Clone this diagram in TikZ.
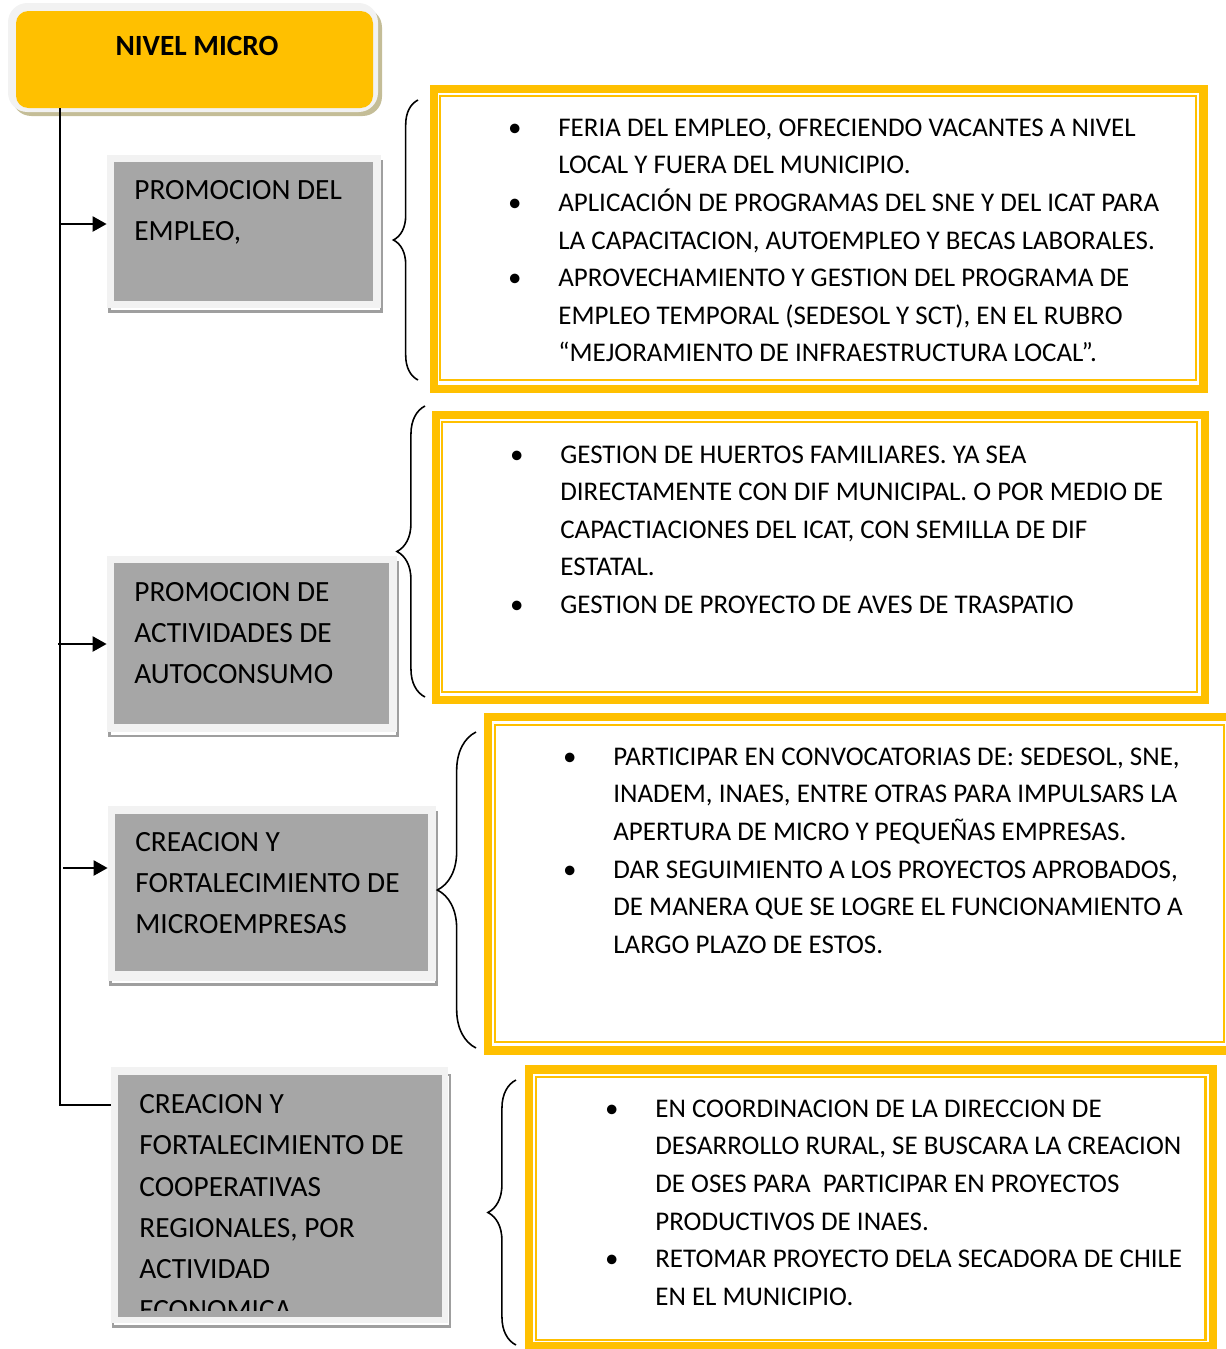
\documentclass[tikz,border=0pt]{standalone}
\usepackage{fontspec}
\setmainfont{Carlito}
\usepackage{xcolor}
\usetikzlibrary{arrows.meta, positioning, fit, decorations.pathreplacing}

\definecolor{micro}{HTML}{FFC000}
\definecolor{boxgray}{HTML}{A6A6A6}
\definecolor{rimgray}{HTML}{F2F2F2}
\definecolor{shadetan}{HTML}{C4BD97}
\newcommand{\bul}{\llap{\textbullet\hspace{21pt}}}

\begin{document}
\begin{tikzpicture}[
    x=0.02cm, y=-0.02cm,
    rim/.style={fill=rimgray, draw=none, inner sep=0pt},
    core/.style={fill=boxgray, draw=none, inner sep=0pt},
    shade/.style={draw=gray!75, line width=1.6pt},
    frame/.style={draw=micro, line width=4.6pt},
    thinframe/.style={draw=micro, line width=1.3pt},
    title/.style={font=\fontsize{16.7}{20}\selectfont\bfseries, inner sep=0pt},
    label/.style={anchor=base west, align=left, inner sep=0pt, font=\fontsize{16.7}{23.4}\selectfont},
    items/.style={anchor=base west, align=left, inner sep=0pt, font=\fontsize{15.35}{21.4}\selectfont},
    link/.style={line width=1.5pt},
    arrow/.style={link, -{Triangle[length=8pt, width=8.5pt]}},
    bracket/.style={decorate, decoration={brace, amplitude=#1}, line width=0.9pt}
]
\useasboundingbox (0,0) rectangle (1225,1349);

% Trunk and arrows
\coordinate (trunk) at (60,108);
\coordinate (bend) at (60,1105);
\coordinate (t1) at (60,224);
\coordinate (t2) at (58,644);
\coordinate (t3) at (63,868);

% Header
\fill[shadetan, rounded corners=11pt] (12,8) rectangle (382,116);
\fill[rimgray, rounded corners=11pt] (8,3) rectangle (378,112);
\node[fill=micro, rounded corners=7pt, inner sep=0pt, fit={(16,11) (373,108)}] (header) {};
\node[title] (headertext) at (197,46) {NIVEL MICRO};

% Gray boxes (text nodes sit on the baseline of their last line)
\draw[shade] (109.5,161.5) rectangle (381.5,311.5);
\node[rim, fit={(107,155) (381,308)}] (empleo) {};
\node[core, fit={(114,162) (373,301)}] (empleocore) {};
\node[label] (empleotext) at (134,240.3) {PROMOCION DEL\\EMPLEO,};

\draw[shade] (109.5,562) rectangle (397.5,736);
\node[rim, fit={(107,556) (397,732)}] (autoconsumo) {};
\node[core, fit={(114,563) (389,724)}] (autoconsumocore) {};
\node[label] (autoconsumotext) at (134,683.5) {PROMOCION DE\\ACTIVIDADES DE\\AUTOCONSUMO};

\draw[shade] (110.5,812) rectangle (436.5,984.5);
\node[rim, fit={(108,806) (436,981)}] (micros) {};
\node[core, fit={(115,814) (428,971)}] (microscore) {};
\node[label] (microstext) at (135,933.5) {CREACION Y\\FORTALECIMIENTO DE\\MICROEMPRESAS};

\draw[shade] (113,1075) rectangle (450,1326.5);
\node[rim, fit={(111,1067) (448,1323)}] (coop) {};
\node[core, fit={(118,1075) (442,1317)}] (coopcore) {};
\begin{scope}
\clip (118,1075) rectangle (442,1310);
\node[label] (cooptext) at (139,1319.4) {CREACION Y\\FORTALECIMIENTO DE\\COOPERATIVAS\\REGIONALES, POR\\ACTIVIDAD\\ECONOMICA};
\end{scope}

\draw[link] (trunk) -- (bend) -- (bend -| coop.west);
\draw[arrow] (t1) -- (t1 -| empleo.west);
\draw[arrow] (t2) -- (t2 -| autoconsumo.west);
\draw[arrow] (t3) -- (t3 -| micros.west);

% Braces
\draw[bracket=14pt] (418,380) -- (418,100);
\draw[bracket=16pt] (425,697) -- (425,406);
\draw[bracket=22pt] (476,1048) -- (476,732);
\draw[bracket=16pt] (516,1345) -- (516,1080);

% Yellow frames
\draw[frame] (434,89) rectangle (1203.5,389);
\draw[thinframe] (440,96) rectangle (1196,380);
\node[items] (empleolist) at (558,361.9) {\bul FERIA DEL EMPLEO, OFRECIENDO VACANTES A NIVEL\\
LOCAL Y FUERA DEL MUNICIPIO.\\
\bul APLICACIÓN DE PROGRAMAS DEL SNE Y DEL ICAT PARA\\
LA CAPACITACION, AUTOEMPLEO Y BECAS LABORALES.\\
\bul APROVECHAMIENTO Y GESTION DEL PROGRAMA DE\\
EMPLEO TEMPORAL (SEDESOL Y SCT), EN EL RUBRO\\
“MEJORAMIENTO DE INFRAESTRUCTURA LOCAL”.};

\draw[frame] (436,415) rectangle (1205,700);
\draw[thinframe] (442,422) rectangle (1197,692);
\node[items] (autoconsumolist) at (560,613.5) {\bul GESTION DE HUERTOS FAMILIARES. YA SEA\\
DIRECTAMENTE CON DIF MUNICIPAL. O POR MEDIO DE\\
CAPACTIACIONES DEL ICAT, CON SEMILLA DE DIF\\
ESTATAL.\\
\bul GESTION DE PROYECTO DE AVES DE TRASPATIO};

\draw[frame] (488,717) rectangle (1232,1050.5);
\draw[thinframe] (495,725) rectangle (1224,1042);
\node[items] (microslist) at (613,953.2) {\bul PARTICIPAR EN CONVOCATORIAS DE: SEDESOL, SNE,\\
INADEM, INAES, ENTRE OTRAS PARA IMPULSARS LA\\
APERTURA DE MICRO Y PEQUEÑAS EMPRESAS.\\
\bul DAR SEGUIMIENTO A LOS PROYECTOS APROBADOS,\\
DE MANERA QUE SE LOGRE EL FUNCIONAMIENTO A\\
LARGO PLAZO DE ESTOS.};

\draw[frame] (529,1069.5) rectangle (1213,1346);
\draw[thinframe] (536,1077) rectangle (1205.5,1340);
\node[items] (cooplist) at (655,1305.2) {\bul EN COORDINACION DE LA DIRECCION DE\\
DESARROLLO RURAL, SE BUSCARA LA CREACION\\
DE OSES PARA\ \ PARTICIPAR EN PROYECTOS\\
PRODUCTIVOS DE INAES.\\
\bul RETOMAR PROYECTO DELA SECADORA DE CHILE\\
EN EL MUNICIPIO.};
\end{tikzpicture}
\end{document}
